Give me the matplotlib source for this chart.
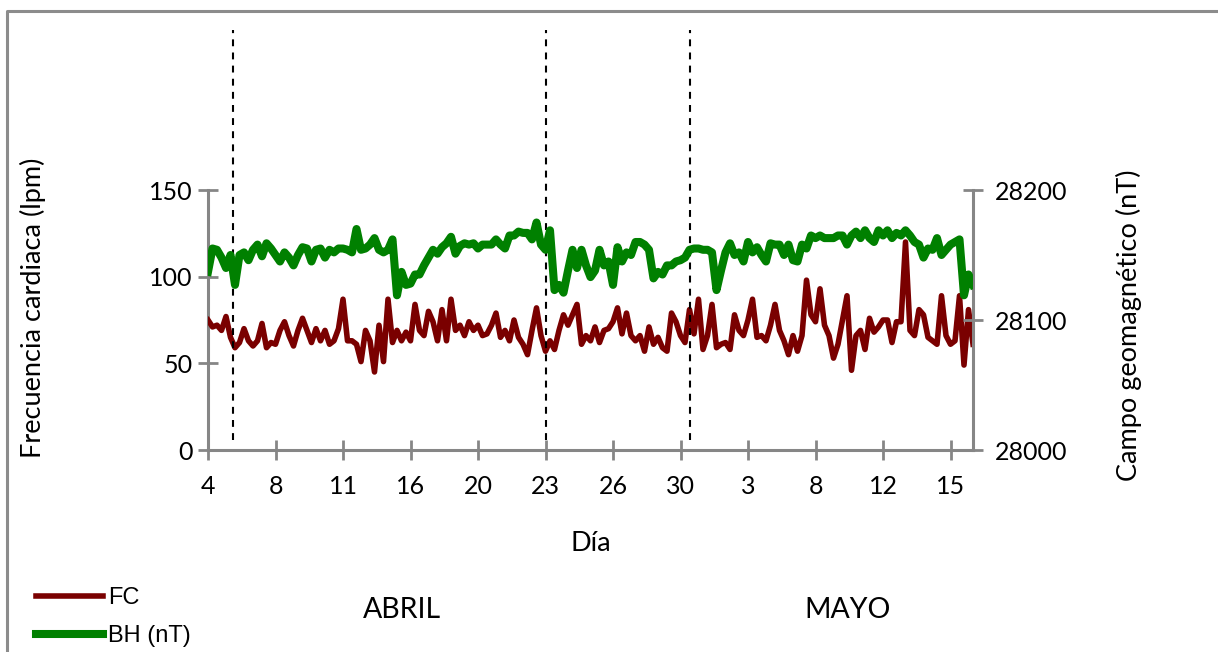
import matplotlib
matplotlib.use("Agg")
import matplotlib.pyplot as plt
from matplotlib.lines import Line2D
import numpy as np

plt.rcParams['font.family'] = ['Lato', 'DejaVu Sans']

# ---- data ----
tick_labels = ['4', '8', '11', '16', '20', '23', '26', '30', '3', '8', '12', '15']
month_labels = ['ABRIL', 'MAYO']

fc = [75, 71, 72, 69, 77, 65, 59, 62, 70, 63, 60, 63, 73, 59, 62, 61, 69, 74, 66, 60, 69, 76, 69, 62, 70, 63, 69, 61,
      63, 70, 87, 63, 63, 61, 51, 69, 63, 45, 72, 51, 87, 62, 69, 63, 68, 63, 84, 69, 66, 80, 74, 63, 81, 63, 87, 69, 72,
      66, 74, 69, 72, 66, 67, 72, 79, 65, 69, 63, 75, 65, 61, 55, 69, 82, 66, 57, 63, 58, 69, 78, 72, 78, 84, 61, 66, 63,
      71, 62, 69, 70, 74, 82, 67, 79, 66, 63, 66, 57, 71, 61, 65, 59, 57, 79, 74, 66, 62, 81, 67, 87, 58, 66, 84, 59,
      61, 62, 58, 78, 69, 66, 75, 87, 65, 66, 63, 72, 84, 69, 63, 55, 66, 57, 66, 98, 78, 74, 93, 72, 66, 53, 61, 75, 89,
      46, 66, 69, 58, 76, 68, 71, 75, 75, 62, 74, 74, 120, 69, 66, 81, 78, 65, 63, 61, 89, 66, 61, 63, 89, 49, 81, 61]

bh = [28137, 28155, 28154, 28148, 28140, 28150, 28127, 28150, 28152, 28146, 28154, 28158, 28149, 28159, 28155, 28150,
      28145, 28152, 28148, 28142, 28150, 28156, 28155, 28145, 28154, 28155, 28148, 28154,
      28152, 28155, 28155, 28154, 28152, 28170, 28154, 28155, 28158, 28163, 28154, 28152, 28154, 28162, 28119, 28137,
      28127, 28128, 28135, 28135, 28142, 28148, 28154, 28151, 28156, 28159, 28164, 28151, 28157,
      28159, 28158, 28159, 28155, 28158, 28158, 28158, 28162, 28158, 28155, 28165, 28165, 28168, 28167, 28167, 28162,
      28175, 28158, 28154, 28169, 28123, 28127, 28121, 28138, 28154, 28140, 28154, 28142, 28133,
      28138, 28154, 28142, 28145, 28127, 28156, 28145, 28152, 28150, 28160, 28160, 28158, 28154, 28132, 28137, 28135,
      28142, 28142, 28145, 28146, 28148, 28154, 28155, 28155, 28154, 28154, 28152, 28123,
      28138, 28152, 28159, 28150, 28152, 28145, 28160, 28152, 28156, 28150, 28145, 28159, 28158, 28158, 28150, 28158,
      28146, 28145, 28158, 28155, 28165, 28163, 28165, 28163, 28163, 28163, 28165, 28165, 28158,
      28165, 28168, 28163, 28169, 28163, 28160, 28169, 28165, 28169, 28163, 28167, 28165, 28169, 28165, 28160, 28158,
      28148, 28155, 28154, 28163, 28150, 28154, 28158, 28160, 28162, 28119, 28135, 28127]

event_positions = [5.56, 75.1, 107.1]   # dashed marker lines (sample index)
samples_per_tick = 15

# ---- figure ----
W, H = 1218, 652
fig = plt.figure(figsize=(W / 100, H / 100), dpi=100)
L, R, B, T = 208, 973, 450, 190
ax = fig.add_axes([L / W, 1 - B / H, (R - L) / W, (B - T) / H])
ax2 = ax.twinx()

red = '#7a0000'
green = '#008000'
x = np.arange(len(fc))
ax.plot(x, fc, color=red, lw=4.0, solid_joinstyle='round', label='FC', zorder=3)
ax2.plot(x, bh, color=green, lw=5.8, solid_joinstyle='round', label='BH (nT)', zorder=3)

ax.set_xlim(0, len(fc) - 1)
ax.set_ylim(0, 150)
ax2.set_ylim(28000, 28200)
ax.set_yticks([0, 50, 100, 150])
ax2.set_yticks([28000, 28100, 28200])
ax.set_xticks(np.arange(len(tick_labels)) * samples_per_tick)
ax.set_xticklabels(tick_labels)

grey = '#868686'
for a in (ax, ax2):
    a.set_facecolor('none')
    for s in a.spines.values():
        s.set_visible(False)
    a.tick_params(colors=grey, labelcolor='black', labelsize=18, width=2, length=14, direction='inout')
ax.spines['left'].set_visible(True)
ax.spines['bottom'].set_visible(True)
ax2.spines['right'].set_visible(True)
for s in (ax.spines['left'], ax.spines['bottom'], ax2.spines['right']):
    s.set_color(grey)
    s.set_linewidth(2.2)
ax.tick_params(axis='y', pad=4)
ax2.tick_params(axis='y', pad=9)
ax.tick_params(axis='x', pad=11)

ax.set_ylabel('Frecuencia cardiaca (lpm)', fontsize=19.5)
ax.yaxis.set_label_coords((46 - L) / (R - L), (B - 308) / (B - T))
ax2.set_ylabel('Campo geomagnético (nT)', fontsize=19.5)
ax2.yaxis.set_label_coords((1116 - L) / (R - L), (B - 325) / (B - T))
ax.set_xlabel('Día', fontsize=19.5, labelpad=24)

# dashed event lines extending above the plot
for p in event_positions:
    ax.axvline(p, ymin=10 / 260, ymax=1 + 160 / 260, color='black', lw=1.5,
               dashes=(3.3, 3.0), clip_on=False, zorder=5)

# month labels
fig.text(402 / W, 1 - 610 / H, month_labels[0], fontsize=20.5, ha='center', va='center')
fig.text(848 / W, 1 - 610 / H, month_labels[1], fontsize=20.5, ha='center', va='center')

# legend
h1 = Line2D([], [], color=red, lw=4.0)
h2 = Line2D([], [], color=green, lw=5.8)
fig.legend([h1, h2], ['FC', 'BH (nT)'], loc='upper left', bbox_to_anchor=(36 / W, 1 - 587 / H),
           frameon=False, handlelength=2.84, handletextpad=0.2, labelspacing=0.68,
           borderpad=0, borderaxespad=0, prop={'family': 'Liberation Sans', 'size': 17})

# chart-area border (top and left visible)
fig.add_artist(Line2D([7 / W, 7 / W, 1.0], [0, 1 - 11 / H, 1 - 11 / H], transform=fig.transFigure,
                      color='#8c8c8c', lw=2.2))

fig.savefig('out.png', dpi=100)
